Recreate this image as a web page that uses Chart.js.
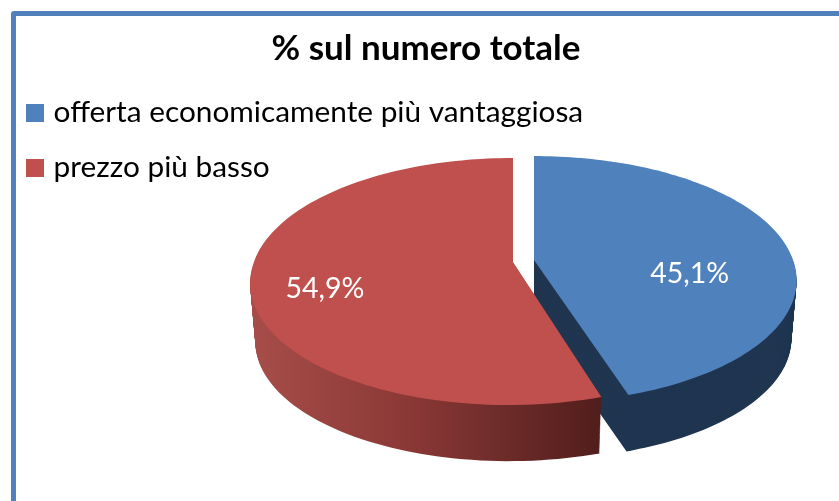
<!DOCTYPE html>
<html>
<head>
<meta charset="utf-8">
<script src="https://cdn.jsdelivr.net/npm/chart.js"></script>
<style>
  html, body { margin: 0; padding: 0; background: #fff; overflow: hidden; }
  #wrap { position: relative; width: 839px; height: 501px; overflow: hidden; }
  #frame { position: absolute; left: 11px; top: 11px; width: 1000px; height: 800px; border: 5px solid #4f81bd; border-radius: 3px; }
  canvas { position: absolute; left: 0; top: 0; }
</style>
</head>
<body>
<div id="wrap">
  <div id="frame"></div>
  <canvas id="grafico" width="839" height="501"></canvas>
</div>
<script>
const categories = ["offerta economicamente più vantaggiosa", "prezzo più basso"];
const values = [45.1, 54.9];
const topColors = ["#4f81bd", "#c0504d"];

// finta prospettiva 3D: la torta vera la calcola Chart.js, qui si proiettano solo gli angoli
const centers = [{ x: 534, y: 260 }, { x: 513, y: 262 }];
const shear = [0.015, -0.03];
const R = 259, K = 120.4, P = 0.158, DEPTH = 59, SHRINK = 0.98;
const labelDist = [0.608, 0.735];
const labelShift = [25, 13];
const FONT = "Lato, 'Open Sans', sans-serif";

function slicePath(ctx, i, arc, d) {
  const c = centers[i];
  const s = 1 - (1 - SHRINK) * d / DEPTH;
  const pt = (a) => {
    const u = Math.cos(a), v = Math.sin(a), w = 1 - P * v;
    const dy = s * K * v / w;
    return [c.x + s * R * u / w + shear[i] * Math.max(dy, 0), c.y + d + dy];
  };
  ctx.beginPath();
  ctx.moveTo(c.x, c.y + d);
  const steps = 120;
  for (let n = 0; n <= steps; n++) {
    const p = pt(arc.startAngle + (arc.endAngle - arc.startAngle) * n / steps);
    ctx.lineTo(p[0], p[1]);
  }
  ctx.closePath();
}

const torta3d = {
  id: "torta3d",
  beforeDatasetDraw(chart) {
    const ctx = chart.ctx;
    const arcs = chart.getDatasetMeta(0).data;
    const grad = ctx.createLinearGradient(255, 0, 600, 0);
    grad.addColorStop(0, "#a64d49");
    grad.addColorStop(0.45, "#8a3836");
    grad.addColorStop(0.75, "#6a2a28");
    grad.addColorStop(1, "#511e1b");
    const wallColors = ["#1f3550", grad];

    ctx.save();
    arcs.forEach((arc, i) => {
      ctx.fillStyle = wallColors[i];
      for (let d = DEPTH; d > 0; d--) {
        slicePath(ctx, i, arc, d);
        ctx.fill();
      }
      ctx.fillStyle = topColors[i];
      slicePath(ctx, i, arc, 0);
      ctx.fill();
    });
    // etichette percentuali
    ctx.fillStyle = "#fff";
    ctx.font = "28.5px " + FONT;
    ctx.textAlign = "center";
    ctx.textBaseline = "middle";
    arcs.forEach((arc, i) => {
      const a = (arc.startAngle + arc.endAngle) / 2;
      const x = centers[i].x + R * labelDist[i] * Math.cos(a);
      const y = centers[i].y + K * labelDist[i] * Math.sin(a) + labelShift[i];
      ctx.fillText(values[i].toFixed(1).replace(".", ",") + "%", x, y);
    });
    ctx.restore();
    return false;
  }
};

function swatch(color) {
  const c = document.createElement("canvas");
  c.width = 18;
  c.height = 18;
  const g = c.getContext("2d");
  g.fillStyle = color;
  g.fillRect(0, 0, 18, 18);
  return c;
}

new Chart(document.getElementById("grafico"), {
  type: "pie",
  data: {
    labels: categories,
    datasets: [{ data: values, backgroundColor: topColors, borderWidth: 0 }]
  },
  plugins: [torta3d],
  options: {
    responsive: false,
    animation: false,
    layout: { padding: { left: 6.5, right: -6.5, top: 28 } },
    plugins: {
      tooltip: { enabled: false },
      title: {
        display: true,
        text: "% sul numero totale",
        color: "#000",
        font: { family: FONT, size: 35, weight: "bold" },
        padding: { top: 0, bottom: 3 }
      },
      legend: {
        position: "chartArea",
        align: "start",
        // titolo vuoto: serve solo a spingere la legenda sotto il titolo del grafico
        title: { display: true, text: " ", font: { size: 10 }, padding: { top: 0, bottom: 60.6 } },
        labels: {
          color: "#000",
          font: { family: FONT, size: 29.8 },
          padding: 25.2,
          usePointStyle: true,
          pointStyleWidth: 7,
          generateLabels(chart) {
            return categories.map((text, i) => ({
              text,
              index: i,
              pointStyle: swatch(topColors[i]),
              fillStyle: topColors[i],
              strokeStyle: topColors[i],
              lineWidth: 0,
              fontColor: "#000"
            }));
          }
        }
      }
    }
  }
});
</script>
</body>
</html>
